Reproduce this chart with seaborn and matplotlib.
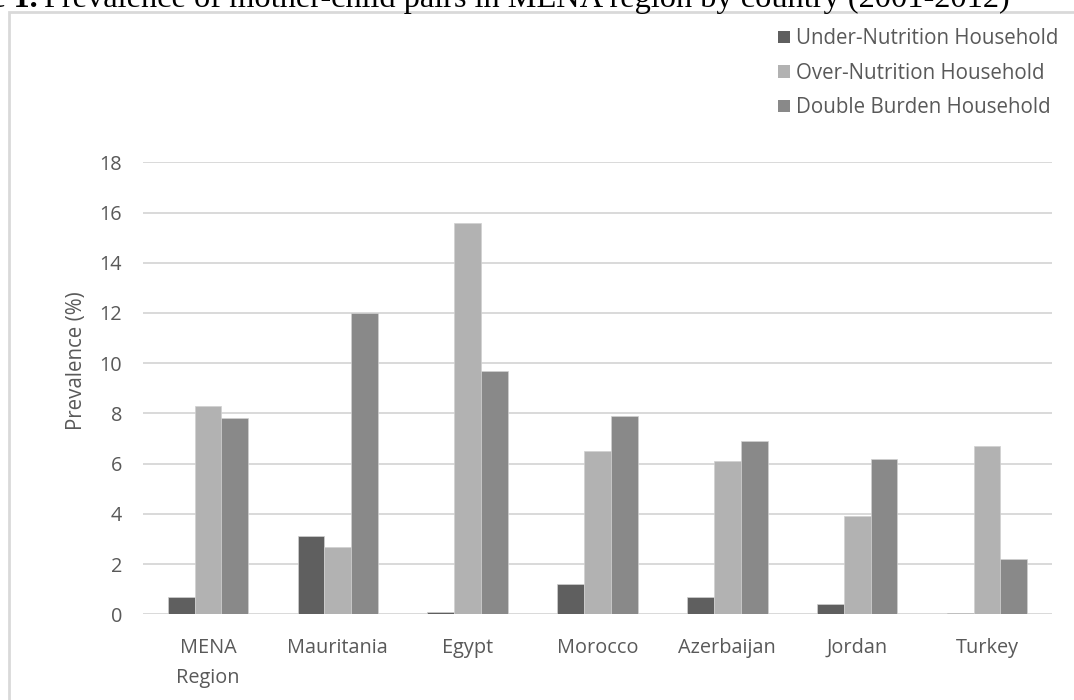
import matplotlib
matplotlib.use("Agg")
import matplotlib.pyplot as plt
import seaborn as sns
import pandas as pd
from matplotlib.patches import Rectangle, Patch

# Prevalence (%) of mother-child pair types by country
countries = ["MENA\nRegion", "Mauritania", "Egypt", "Morocco", "Azerbaijan", "Jordan", "Turkey"]
under_nutrition = [0.7, 3.1, 0.1, 1.2, 0.7, 0.4, 0.05]
over_nutrition = [8.3, 2.7, 15.6, 6.5, 6.1, 3.9, 6.7]
double_burden = [7.8, 12.0, 9.7, 7.9, 6.9, 6.2, 2.2]
series_names = ["Under-Nutrition Household", "Over-Nutrition Household", "Double Burden Household"]
series_colors = ["#5f5f5f", "#b2b2b2", "#898989"]
y_ticks = [0, 2, 4, 6, 8, 10, 12, 14, 16, 18]

df = pd.DataFrame({
    "Country": countries,
    series_names[0]: under_nutrition,
    series_names[1]: over_nutrition,
    series_names[2]: double_burden,
}).melt(id_vars="Country", var_name="Series", value_name="Prevalence")

sns.set_theme(style="white")
plt.rcParams["font.family"] = ["Open Sans", "DejaVu Sans"]

W, H = 1074, 700
fig = plt.figure(figsize=(W / 100, H / 100), dpi=100)
fig.patch.set_facecolor("white")

text_color = "#595959"
grid_color = "#d9d9d9"

ax = fig.add_axes([143 / W, (H - 614.3) / H, 909 / W, 452 / H])
sns.barplot(data=df, x="Country", y="Prevalence", hue="Series",
            hue_order=series_names, palette=series_colors, saturation=1,
            width=0.62, edgecolor="#d0d0d0", linewidth=0.5,
            legend=False, errorbar=None, ax=ax)

ax.set_ylim(0, 18)
ax.set_xlim(-0.5, len(countries) - 0.5)
ax.set_yticks(y_ticks)
ax.yaxis.grid(True, color=grid_color, linewidth=1.4)
ax.xaxis.grid(False)
ax.set_axisbelow(True)
for s in ax.spines.values():
    s.set_visible(False)

ax.tick_params(axis="both", length=0, colors=text_color, labelsize=14.3)
ax.tick_params(axis="y", pad=15)
ax.tick_params(axis="x", pad=17)
for lbl in ax.get_xticklabels():
    lbl.set_linespacing(1.7)
    lbl.set_verticalalignment("top")

ax.set_xlabel("")
ax.set_ylabel("Prevalence (%)", color=text_color, fontsize=14.8)
ax.yaxis.set_label_coords(-0.062, 0.56)

handles = [Patch(facecolor=c, edgecolor="none") for c in series_colors]
fig.legend(handles, series_names, loc="upper left",
           bbox_to_anchor=(770 / W, 1 - 20 / H), frameon=False,
           fontsize=14.8, labelcolor=text_color,
           handlelength=0.55, handleheight=0.55, handletextpad=0.3,
           labelspacing=0.66, borderaxespad=0)

# Outer frame around the chart
fig.patches.append(Rectangle((9 / W, -0.2), 1.5, 1.2 - 12 / H,
                             transform=fig.transFigure, fill=False,
                             edgecolor=grid_color, linewidth=2, zorder=0))

# Caption, partially running off the top edge
fig.text(38 / W, 1 - 7 / H, "Figure 1.", ha="right", va="baseline",
         fontsize=23.3, fontweight="bold", family="Liberation Serif", color="black")
fig.text(44 / W, 1 - 7 / H,
         "Prevalence of mother-child pairs in MENA region by country (2001-2012)",
         ha="left", va="baseline", fontsize=23.3, family="Liberation Serif", color="black")

fig.savefig("out.png", dpi=100, facecolor="white")
